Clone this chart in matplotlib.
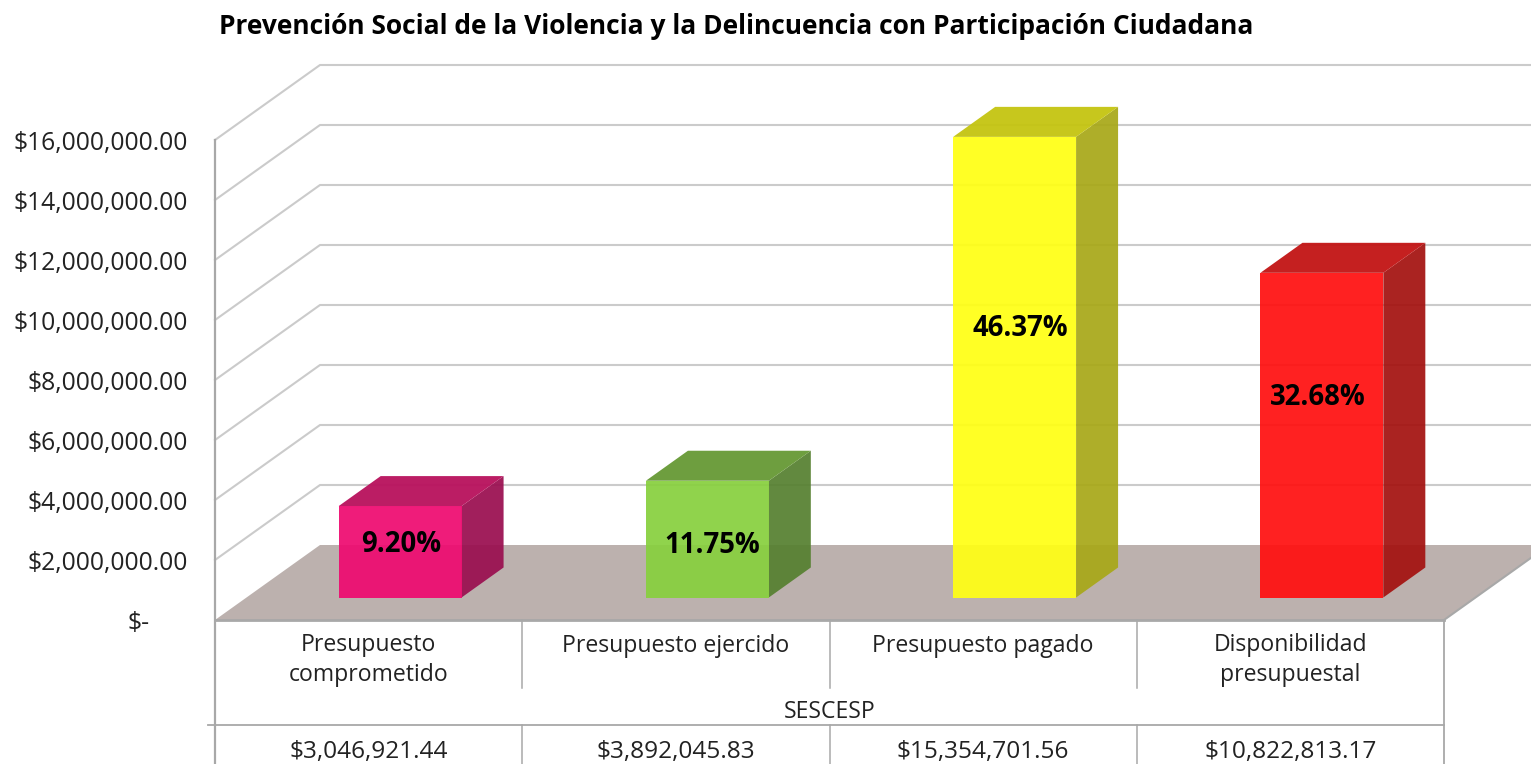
import matplotlib
matplotlib.use("Agg")
import matplotlib.pyplot as plt
from matplotlib.patches import Polygon

plt.rcParams['font.family'] = ['Open Sans', 'DejaVu Sans']

titulo = "Prevención Social de la Violencia y la Delincuencia con Participación Ciudadana"
categorias = ["Presupuesto\ncomprometido", "Presupuesto ejercido", "Presupuesto pagado", "Disponibilidad\npresupuestal"]
montos = [3046921.44, 3892045.83, 15354701.56, 10822813.17]
montos_txt = ["$3,046,921.44", "$3,892,045.83", "$15,354,701.56", "$10,822,813.17"]
porcentajes = ["9.20%", "11.75%", "46.37%", "32.68%"]
ticks = [0, 2000000, 4000000, 6000000, 8000000, 10000000, 12000000, 14000000, 16000000]
grupo = "SESCESP"

colores_frente = ["#EE0A70", "#88D03E", "#FFFF14", "#FF1010"]
colores_arriba = ["#B8105C", "#669934", "#C4C410", "#C21414"]
colores_lado = ["#9A0E50", "#568030", "#A8A818", "#A41210"]

# one category = 307.25 px, 1M = 30 px
fig = plt.figure(figsize=(15.31, 7.64), dpi=100)
ax = fig.add_axes([0, 0, 1, 1])
ax.set_xlim(-215 / 307.25, (1531 - 215) / 307.25)
ax.set_ylim(-4800000, 620 / 30 * 1e6)
ax.axis('off')

DX = 105 / 307.25
DY = 2500000

def pt(x, v, t):
    return (x + t * DX, v + t * DY)

gris = "#cbcbcb"
gris2 = "#a8a8a8"

# floor
ax.add_patch(Polygon([pt(0, 0, 0), pt(4, 0, 0), pt(4, 0, 1), pt(0, 0, 1)], fc="#bcb1ae", ec="none", zorder=1))
ax.plot([4, 4 + DX], [0, DY], color=gris2, lw=1.5, zorder=1.5)

# walls
for v in ticks[1:]:
    a = pt(0, v, 0)
    b = pt(0, v, 1)
    ax.plot([a[0], b[0], 5], [a[1], b[1], b[1]], color=gris, lw=1.5, zorder=0.5)

# bars
for i, m in enumerate(montos):
    x0, x1 = i + 0.3, i + 0.7
    ax.add_patch(Polygon([pt(x1, 0, .3), pt(x1, 0, .7), pt(x1, m, .7), pt(x1, m, .3)],
                         fc=colores_lado[i], alpha=.93, ec="none", zorder=2))
    ax.add_patch(Polygon([pt(x0, m, .3), pt(x1, m, .3), pt(x1, m, .7), pt(x0, m, .7)],
                         fc=colores_arriba[i], alpha=.95, ec="none", zorder=2))
    ax.add_patch(Polygon([pt(x0, 0, .3), pt(x1, 0, .3), pt(x1, m, .3), pt(x0, m, .3)],
                         fc=colores_frente[i], alpha=.93, ec="none", zorder=3))

# percentage labels
pos_pct = [(0.605, 2500000), (1.62, 2480000), (2.62, 9720000), (3.59, 7420000)]
for (x, v), p in zip(pos_pct, porcentajes):
    ax.text(x, v, p, ha='center', va='center', fontsize=19.8, fontweight='bold', color='black', zorder=5)

# axis
ax.plot([0, 0], [16000000, -4800000], color=gris2, lw=1.6, zorder=4)
ax.plot([0, 4], [0, 0], color=gris2, lw=2, zorder=4)
ax.plot([4, 4], [0, -4800000], color=gris2, lw=1.3, zorder=4)
ax.plot([-7 / 307.25, 4], [-3500000, -3500000], color=gris2, lw=1.3, zorder=4)
for x in [1, 2, 3]:
    ax.plot([x, x], [0, -2270000], color=gris2, lw=1.1, zorder=4)
    ax.plot([x, x], [-3500000, -4800000], color=gris2, lw=1.1, zorder=4)

# y labels
for v in ticks[1:]:
    ax.text(-27 / 307.25, v - 130000, "${:,.2f}".format(v), ha='right', va='center', fontsize=17.7, color='#222222')
ax.text(-65 / 307.25, -120000, "$-", ha='right', va='center', fontsize=17.7, color='#222222')

# data table
for i, c in enumerate(categorias):
    ax.text(i + .5, -1340000 if "\n" in c else -870000, c, ha='center', va='center', fontsize=16.6,
            color='#222222', linespacing=1.36)
    ax.text(i + .5, -4390000, montos_txt[i], ha='center', va='center', fontsize=17.6, color='#222222')
ax.text(2, -3050000, grupo, ha='center', va='center', fontsize=16.6, color='#222222')

fig.text(219 / 1531, 1 - 27 / 764, titulo, ha='left', va='center', fontsize=19, fontweight='bold', color='black')

fig.savefig("out.png", dpi=100)
